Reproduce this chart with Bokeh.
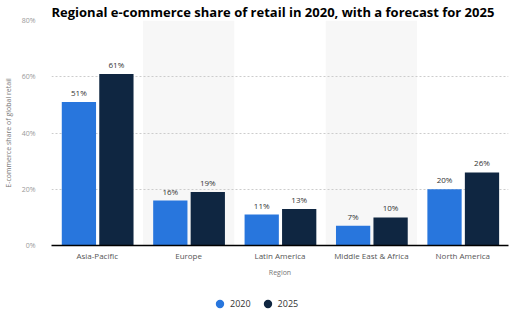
from bokeh.plotting import figure
from bokeh.layouts import column
from bokeh.models import (FactorRange, ColumnDataSource, Legend, LegendItem,
                          FixedTicker, PrintfTickFormatter, LabelSet, Range1d)
from bokeh.transform import dodge
from bokeh.core.properties import value
from bokeh.embed import file_html
from bokeh.resources import INLINE

regions = ["Asia-Pacific", "Europe", "Latin America", "Middle East & Africa", "North America"]
share_2020 = [51, 16, 11, 7, 20]
share_2025 = [61, 19, 13, 10, 26]
shaded_regions = ["Europe", "Middle East & Africa"]
y_ticks = [0, 20, 40, 60, 80]
series_names = ["2020", "2025"]

C2020 = "#2876DD"
C2025 = "#0F2641"
FONT = "Open Sans"

src = ColumnDataSource(dict(
    region=regions,
    s2020=share_2020,
    s2025=share_2025,
    l2020=[f"{v}%" for v in share_2020],
    l2025=[f"{v}%" for v in share_2025],
))

p = figure(x_range=FactorRange(*regions), y_range=(0, 80),
           width=521, height=290, output_backend="svg", toolbar_location=None,
           min_border_left=18, min_border_right=13, min_border_top=2, min_border_bottom=45)

p.title.text = "Regional e-commerce share of retail in 2020, with a forecast for 2025"
p.title.text_font = FONT
p.title.text_font_size = "13px"
p.title.text_font_style = "bold"
p.title.text_color = "#000000"
p.title.align = "left"
p.title.standoff = 0

p.outline_line_color = None
p.background_fill_color = "white"

# shaded bands
p.vbar(x=shaded_regions, top=[max(y_ticks)] * len(shaded_regions), width=1.0,
       fill_color="#F7F7F7", line_color=None, level="underlay")

w = 0.375
O1, O2 = -0.2, 0.21
p.vbar(x=dodge("region", O1, range=p.x_range), top="s2020", width=w, source=src,
       fill_color=C2020, line_color=None)
p.vbar(x=dodge("region", O2, range=p.x_range), top="s2025", width=w, source=src,
       fill_color=C2025, line_color=None)

for col, top, off in (("l2020", "s2020", O1), ("l2025", "s2025", O2)):
    p.add_layout(LabelSet(x=dodge("region", off, range=p.x_range), y=top, text=col, source=src,
                          y_offset=4, text_align="center", text_baseline="bottom",
                          text_font=value(FONT), text_font_size="8px", text_color="#333333"))

# axes
p.yaxis.ticker = FixedTicker(ticks=y_ticks)
p.yaxis.formatter = PrintfTickFormatter(format="%d%%")
p.yaxis.axis_line_color = None
p.yaxis.major_tick_line_color = None
p.yaxis.minor_tick_line_color = None
p.yaxis.major_label_text_font = FONT
p.yaxis.major_label_text_font_size = "7px"
p.yaxis.major_label_text_color = "#999999"
p.yaxis.major_label_standoff = 10
p.yaxis.axis_label = "E-commerce share of global retail"
p.yaxis.axis_label_text_font = FONT
p.yaxis.axis_label_text_font_size = "7px"
p.yaxis.axis_label_text_font_style = "normal"
p.yaxis.axis_label_text_color = "#777777"
p.yaxis.axis_label_standoff = 6

p.xaxis.axis_line_color = "#000000"
p.xaxis.axis_line_width = 1.5
p.xaxis.major_tick_line_color = None
p.xaxis.minor_tick_line_color = None
p.xaxis.major_label_text_font = FONT
p.xaxis.major_label_text_font_size = "8px"
p.xaxis.major_label_text_color = "#555555"
p.xaxis.major_label_standoff = -2
p.xaxis.axis_label = "Region"
p.xaxis.axis_label_text_font = FONT
p.xaxis.axis_label_text_font_size = "7px"
p.xaxis.axis_label_text_font_style = "normal"
p.xaxis.axis_label_text_color = "#777777"
p.xaxis.axis_label_standoff = 4

p.xgrid.grid_line_color = None
p.ygrid.grid_line_color = "#CCCCCC"
p.ygrid.grid_line_dash = "2 2"
p.ygrid.grid_line_width = 1

# separate legend strip
lf = figure(width=521, height=30, output_backend="svg", toolbar_location=None,
            x_range=Range1d(0, 1), y_range=Range1d(0, 1),
            min_border=0, outline_line_color=None)
lf.axis.visible = False
lf.grid.visible = False
r1 = lf.scatter(x=[-5], y=[-5], marker="circle", size=10, fill_color=C2020, line_color=None)
r2 = lf.scatter(x=[-5], y=[-5], marker="circle", size=10, fill_color=C2025, line_color=None)
legend = Legend(items=[LegendItem(label=series_names[0], renderers=[r1]),
                       LegendItem(label=series_names[1], renderers=[r2])],
                orientation="horizontal", location=(158, 6),
                border_line_color=None, background_fill_alpha=0,
                label_text_font=FONT, label_text_font_size="9px", label_text_color="#333333",
                glyph_width=21, glyph_height=21, spacing=6, label_standoff=0,
                padding=0, margin=0)
lf.add_layout(legend, "center")

layout = column(p, lf, spacing=0)
open("out.html", "w").write(file_html(layout, INLINE))
